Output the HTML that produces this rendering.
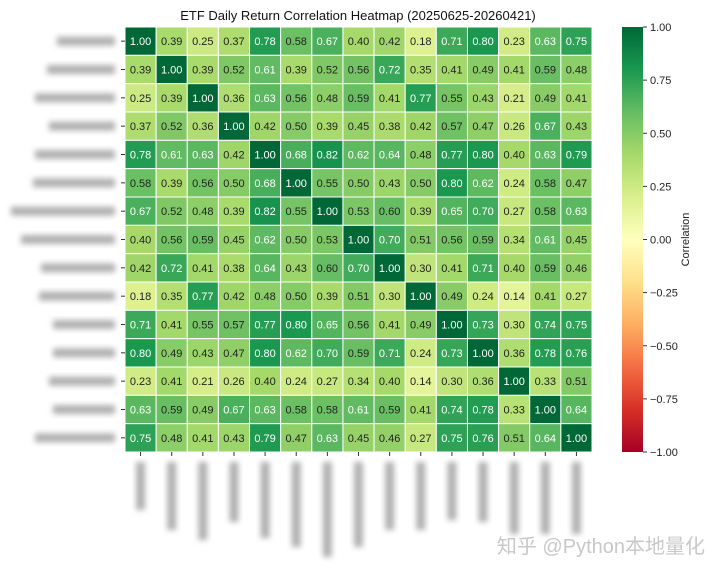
<!DOCTYPE html>
<html><head><meta charset="utf-8"><style>
body{margin:0;background:#fff;width:720px;height:575px;overflow:hidden;font-family:"Liberation Sans","DejaVu Sans",sans-serif}
</style></head><body>
<svg id="chart" width="720" height="575" xmlns="http://www.w3.org/2000/svg">
<defs>
<filter id="blur" x="-50%" y="-50%" width="200%" height="200%"><feGaussianBlur stdDeviation="2.8"/></filter>
<linearGradient id="cbgrad" x1="0" y1="1" x2="0" y2="0"></linearGradient>
</defs>
<text x="358" y="20" text-anchor="middle" font-size="13" fill="#111">ETF Daily Return Correlation Heatmap (20250625-20260421)</text>
<g id="cells"></g>
<g id="labels"></g>
<g id="cbar"></g>
<text x="705" y="553" text-anchor="end" font-size="20" fill="#c8c8c8" font-family="'Liberation Sans','Noto Sans CJK SC',sans-serif">知乎 @Python本地量化</text>
</svg>
<script>
const values = [
[1.00,0.39,0.25,0.37,0.78,0.58,0.67,0.40,0.42,0.18,0.71,0.80,0.23,0.63,0.75],
[0.39,1.00,0.39,0.52,0.61,0.39,0.52,0.56,0.72,0.35,0.41,0.49,0.41,0.59,0.48],
[0.25,0.39,1.00,0.36,0.63,0.56,0.48,0.59,0.41,0.77,0.55,0.43,0.21,0.49,0.41],
[0.37,0.52,0.36,1.00,0.42,0.50,0.39,0.45,0.38,0.42,0.57,0.47,0.26,0.67,0.43],
[0.78,0.61,0.63,0.42,1.00,0.68,0.82,0.62,0.64,0.48,0.77,0.80,0.40,0.63,0.79],
[0.58,0.39,0.56,0.50,0.68,1.00,0.55,0.50,0.43,0.50,0.80,0.62,0.24,0.58,0.47],
[0.67,0.52,0.48,0.39,0.82,0.55,1.00,0.53,0.60,0.39,0.65,0.70,0.27,0.58,0.63],
[0.40,0.56,0.59,0.45,0.62,0.50,0.53,1.00,0.70,0.51,0.56,0.59,0.34,0.61,0.45],
[0.42,0.72,0.41,0.38,0.64,0.43,0.60,0.70,1.00,0.30,0.41,0.71,0.40,0.59,0.46],
[0.18,0.35,0.77,0.42,0.48,0.50,0.39,0.51,0.30,1.00,0.49,0.24,0.14,0.41,0.27],
[0.71,0.41,0.55,0.57,0.77,0.80,0.65,0.56,0.41,0.49,1.00,0.73,0.30,0.74,0.75],
[0.80,0.49,0.43,0.47,0.80,0.62,0.70,0.59,0.71,0.24,0.73,1.00,0.36,0.78,0.76],
[0.23,0.41,0.21,0.26,0.40,0.24,0.27,0.34,0.40,0.14,0.30,0.36,1.00,0.33,0.51],
[0.63,0.59,0.49,0.67,0.63,0.58,0.58,0.61,0.59,0.41,0.74,0.78,0.33,1.00,0.64],
[0.75,0.48,0.41,0.43,0.79,0.47,0.63,0.45,0.46,0.27,0.75,0.76,0.51,0.64,1.00]];
const cbTicks = [1.00,0.75,0.50,0.25,0.00,-0.25,-0.50,-0.75,-1.00];
const cbTickLabels = ["1.00","0.75","0.50","0.25","0.00","\u22120.25","\u22120.50","\u22120.75","\u22121.00"];
const xLabelLens = [48,68,78,60,76,85,95,85,68,68,58,60,72,72,72];
const yLabelLens = [58,68,80,66,80,82,104,94,74,76,62,62,66,62,80];

const NS="http://www.w3.org/2000/svg";
const stops=["#a50026","#d73027","#f46d43","#fdae61","#fee08b","#ffffbf","#d9ef8b","#a6d96a","#66bd63","#1a9850","#006837"];
function hex(c){return [1,3,5].map(i=>parseInt(c.substr(i,2),16));}
function cmap(v){let t=(v+1)/2*10;t=Math.max(0,Math.min(10,t));const i=Math.min(9,Math.floor(t)),f=t-i;const a=hex(stops[i]),b=hex(stops[i+1]);return `rgb(${a.map((x,k)=>Math.round(x+(b[k]-x)*f)).join(",")})`;}
const X0=125,X1=592,Y0=27,Y1=452,n=values.length;
const cw=(X1-X0)/n,ch=(Y1-Y0)/n;
const xScale=j=>X0+j*cw, yScale=i=>Y0+i*ch;
function el(t,a,p){const e=document.createElementNS(NS,t);for(const k in a)e.setAttribute(k,a[k]);p.appendChild(e);return e;}
const cells=document.getElementById('cells');
values.forEach((row,i)=>row.forEach((v,j)=>{
 const r=el('rect',{x:xScale(j),y:yScale(i),width:cw,height:ch,fill:cmap(v),stroke:'#fff','stroke-width':1},cells);
 
 
 const t=el('text',{x:xScale(j)+cw/2,y:yScale(i)+ch/2+4,'text-anchor':'middle','font-size':11,fill:(v>0.6||v<-0.6)?'#fff':'#222'},cells);
 t.textContent=v.toFixed(2);
 
 
}));
const lab=document.getElementById('labels');
for(let i=0;i<n;i++){
 const y=yScale(i)+ch/2;
 el('line',{x1:X0-4,x2:X0,y1:y,y2:y,stroke:'#333'},lab);
 const b=el('rect',{x:115-yLabelLens[i],y:y-4.5,width:yLabelLens[i],height:9,fill:'#b0b0b0',filter:'url(#blur)'},lab);
 
 
 const x=xScale(i)+cw/2;
 el('line',{x1:x,x2:x,y1:Y1,y2:Y1+4,stroke:'#333'},lab);
 const c=el('rect',{x:x-4.5,y:462,width:9,height:xLabelLens[i],fill:'#b0b0b0',filter:'url(#blur)'},lab);
 
 
}
const grad=document.getElementById('cbgrad');
stops.forEach((s,k)=>el('stop',{offset:k/10,'stop-color':s},grad));
const cb=document.getElementById('cbar');
const CX=622,CW=21;
const cbr=el('rect',{x:CX,y:Y0,width:CW,height:Y1-Y0,fill:'url(#cbgrad)'},cb);


const cbY=v=>Y0+(1-v)/2*(Y1-Y0);
cbTicks.forEach((v,k)=>{
 const y=cbY(v);
 el('line',{x1:CX+CW,x2:CX+CW+4,y1:y,y2:y,stroke:'#333'},cb);
 const t=el('text',{x:CX+CW+7,y:y+4,'font-size':11,fill:'#222'},cb);
 t.textContent=cbTickLabels[k];
 
 
});
const ct=el('text',{x:0,y:0,'font-size':11,fill:'#222','text-anchor':'middle',transform:`translate(689,${(Y0+Y1)/2}) rotate(-90)`},cb);
ct.textContent='Correlation';


</script>
</body></html>
